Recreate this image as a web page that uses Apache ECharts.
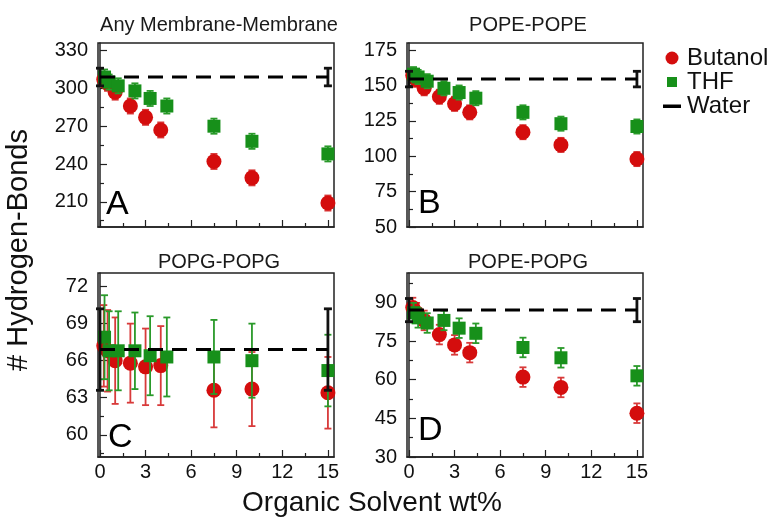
<!DOCTYPE html>
<html>
<head>
<meta charset="utf-8">
<script src="https://cdn.jsdelivr.net/npm/echarts@6/dist/echarts.min.js"></script>
<style>
  html, body { margin: 0; padding: 0; background: #fff; }
  #chart { width: 774px; height: 522px; }
</style>
</head>
<body>
<div id="chart"></div>
<script>
// organic solvent wt% for each series
var butanolX = [0.25, 0.5, 1, 2, 3, 4, 7.5, 10, 15];
var thfX = [0.3, 0.6, 1.2, 2.3, 3.3, 4.4, 7.5, 10, 15];
var waterX = [0, 15];

var panelNames = ['Any Membrane-Membrane', 'POPE-POPE', 'POPG-POPG', 'POPE-POPG'];
var panelLetters = ['A', 'B', 'C', 'D'];

// A - any membrane-membrane
var butanolA = [307, 304, 297, 286, 277, 267, 242, 229, 209];
var butanolErrA = [6, 6, 6, 6, 6, 6, 6, 6, 6];
var thfA = [309, 305, 302, 298, 292, 286, 270, 258, 248];
var thfErrA = [6, 6, 6, 6, 6, 6, 6, 6, 6];
var waterA = 309, waterErrA = 7;

// B - POPE-POPE
var butanolB = [157, 154, 148, 142, 137, 131, 117, 108, 98];
var butanolErrB = [5, 5, 5, 5, 5, 5, 5, 5, 5];
var thfB = [158, 156, 153, 148, 145, 141, 131, 123, 121];
var thfErrB = [5, 5, 5, 5, 5, 5, 5, 5, 5];
var waterB = 154.5, waterErrB = 5.5;

// C - POPG-POPG
var butanolC = [67.2, 66.8, 66.0, 65.8, 65.5, 65.6, 63.6, 63.7, 63.4];
var butanolErrC = [3.3, 3.3, 3.5, 3.2, 3.1, 3.2, 3.0, 3.0, 2.9];
var thfC = [67.9, 66.8, 66.8, 66.8, 66.4, 66.3, 66.3, 66.0, 65.2];
var thfErrC = [3.4, 3.2, 3.2, 3.1, 3.2, 3.2, 3.0, 3.0, 2.9];
var waterC = 66.9, waterErrC = 3.3;

// D - POPE-POPG
var butanolD = [88, 86, 83, 77.5, 73.5, 70.5, 61, 57, 47];
var butanolErrD = [3.8, 3.8, 3.8, 3.8, 3.8, 3.8, 3.8, 3.8, 3.8];
var thfD = [86, 84, 82, 83, 80, 78, 72.5, 68.5, 61.5];
var thfErrD = [3.8, 3.8, 3.8, 3.8, 3.8, 3.8, 3.8, 3.8, 3.8];
var waterD = 87, waterErrD = 4.5;

// axis ranges / ticks
var xMin = -0.13, xMax = 15.4;
var xTicks = [0, 3, 6, 9, 12, 15];
var xMinorTicks = [1.5, 4.5, 7.5, 10.5, 13.5];
var yMin = [190, 50, 58.2, 30];
var yMax = [336, 180, 73.1, 101.4];
var yTicks = [[210, 240, 270, 300, 330], [50, 75, 100, 125, 150, 175], [60, 63, 66, 69, 72], [30, 45, 60, 75, 90]];
var yMinorTicks = [[195, 225, 255, 285, 315], [62.5, 87.5, 112.5, 137.5, 162.5], [58.5, 61.5, 64.5, 67.5, 70.5], [37.5, 52.5, 67.5, 82.5, 97.5]];

var butanolY = [butanolA, butanolB, butanolC, butanolD];
var butanolErr = [butanolErrA, butanolErrB, butanolErrC, butanolErrD];
var thfY = [thfA, thfB, thfC, thfD];
var thfErr = [thfErrA, thfErrB, thfErrC, thfErrD];
var waterY = [waterA, waterB, waterC, waterD];
var waterErr = [waterErrA, waterErrB, waterErrC, waterErrD];

var FONT = 'Liberation Sans';
var RED = '#d40d0d', RED_BAR = '#d83a3a';
var GREEN = '#17901a', GREEN_BAR = '#2a9a2a';

var grids = [
  { left: 98, top: 43, width: 236, height: 184 },
  { left: 407, top: 43, width: 236, height: 184 },
  { left: 98, top: 273, width: 236, height: 184 },
  { left: 407, top: 273, width: 236, height: 184 }
];

function errorBars(color, width, cap) {
  return function (params, api) {
    var x = api.value(0);
    var p1 = api.coord([x, api.value(1)]);
    var p2 = api.coord([x, api.value(2)]);
    var st = { stroke: color, lineWidth: width };
    return {
      type: 'group',
      children: [
        { type: 'line', shape: { x1: p1[0], y1: p1[1], x2: p2[0], y2: p2[1] }, style: st },
        { type: 'line', shape: { x1: p1[0] - cap, y1: p1[1], x2: p1[0] + cap, y2: p1[1] }, style: st },
        { type: 'line', shape: { x1: p2[0] - cap, y1: p2[1], x2: p2[0] + cap, y2: p2[1] }, style: st }
      ]
    };
  };
}

function pts(xs, ys) {
  return xs.map(function (x, i) { return [x, ys[i]]; });
}
function bars(xs, ys, es) {
  return xs.map(function (x, i) { return [x, ys[i] - es[i], ys[i] + es[i]]; });
}

var xAxes = [], yAxes = [], series = [], titles = [];
for (var i = 0; i < 4; i++) {
  var showX = i >= 2;
  // main axes
  xAxes.push({
    type: 'value', gridIndex: i, position: 'bottom', min: xMin, max: xMax,
    axisLine: { lineStyle: { color: '#222', width: 1.5 } },
    axisTick: { inside: true, length: 7, customValues: xTicks, lineStyle: { color: '#222', width: 1.2 } },
    axisLabel: { show: showX, customValues: xTicks, margin: 5, fontSize: 20, fontFamily: FONT, color: '#111' },
    splitLine: { show: false }
  });
  // minor ticks
  xAxes.push({
    type: 'value', gridIndex: i, position: 'bottom', min: xMin, max: xMax,
    axisLine: { show: false },
    axisTick: { inside: true, length: 4, customValues: xMinorTicks, lineStyle: { color: '#222', width: 1.2 } },
    axisLabel: { show: false },
    splitLine: { show: false }
  });
  yAxes.push({
    type: 'value', gridIndex: i, position: 'left', min: yMin[i], max: yMax[i],
    axisLine: { lineStyle: { color: '#222', width: 1.5 } },
    axisTick: { inside: true, length: 7, customValues: yTicks[i], lineStyle: { color: '#222', width: 1.2 } },
    axisLabel: { customValues: yTicks[i], margin: 10, fontSize: 20, fontFamily: FONT, color: '#111' },
    splitLine: { show: false }
  });
  yAxes.push({
    type: 'value', gridIndex: i, position: 'left', min: yMin[i], max: yMax[i],
    axisLine: { show: false },
    axisTick: { inside: true, length: 4, customValues: yMinorTicks[i], lineStyle: { color: '#222', width: 1.2 } },
    axisLabel: { show: false },
    splitLine: { show: false }
  });

  var xi = i * 2, yi = i * 2;
  series.push({
    type: 'custom', name: 'Butanol err', xAxisIndex: xi, yAxisIndex: yi, z: 2,
    renderItem: errorBars(RED_BAR, 1.8, 3.5), encode: { x: 0, y: [1, 2] },
    data: bars(butanolX, butanolY[i], butanolErr[i]), silent: true
  });
  series.push({
    type: 'scatter', name: 'Butanol', xAxisIndex: xi, yAxisIndex: yi, z: 3,
    symbol: 'circle', symbolSize: 15, itemStyle: { color: RED, opacity: 1 },
    data: pts(butanolX, butanolY[i])
  });
  series.push({
    type: 'custom', name: 'THF err', xAxisIndex: xi, yAxisIndex: yi, z: 4,
    renderItem: errorBars(GREEN_BAR, 1.8, 3.5), encode: { x: 0, y: [1, 2] },
    data: bars(thfX, thfY[i], thfErr[i]), silent: true
  });
  series.push({
    type: 'scatter', name: 'THF', xAxisIndex: xi, yAxisIndex: yi, z: 5,
    symbol: 'rect', symbolSize: 13, itemStyle: { color: GREEN, opacity: 1 },
    data: pts(thfX, thfY[i])
  });
  series.push({
    type: 'line', name: 'Water', xAxisIndex: xi, yAxisIndex: yi, z: 6,
    symbol: 'none', itemStyle: { color: '#000' },
    lineStyle: { color: '#000', width: 3, type: [15, 9] },
    data: waterX.map(function (x) { return [x, waterY[i]]; })
  });
  series.push({
    type: 'custom', name: 'Water err', xAxisIndex: xi, yAxisIndex: yi, z: 6,
    renderItem: errorBars('#111', 2.8, 4), encode: { x: 0, y: [1, 2] },
    data: waterX.map(function (x) { return [x, waterY[i] - waterErr[i], waterY[i] + waterErr[i]]; }),
    silent: true
  });

  titles.push({
    text: panelNames[i], left: grids[i].left + grids[i].width / 2 - 2, top: i < 2 ? 10 : 247,
    textAlign: 'center',
    textStyle: { fontFamily: FONT, fontSize: 20, fontWeight: 'normal', color: '#1a1a1a' }
  });
}

var letterPos = [[106, 205], [418, 204], [108, 438], [418, 431]];
var graphics = panelLetters.map(function (l, i) {
  return {
    type: 'text', x: letterPos[i][0], y: letterPos[i][1], z: 10,
    style: { text: l, font: '34px "' + FONT + '"', fill: '#000', textVerticalAlign: 'middle' }
  };
});
graphics.push({
  type: 'text', x: 19, y: 250, rotation: Math.PI / 2,
  style: { text: '# Hydrogen-Bonds', font: '29px "' + FONT + '"', fill: '#111', textAlign: 'center', textVerticalAlign: 'middle' }
});
graphics.push({
  type: 'text', x: 372, y: 503,
  style: { text: 'Organic Solvent wt%', font: '28px "' + FONT + '"', fill: '#111', textAlign: 'center', textVerticalAlign: 'middle' }
});

var chart = echarts.init(document.getElementById('chart'), null, { renderer: 'canvas' });
chart.setOption({
  animation: false,
  backgroundColor: '#fff',
  title: titles,
  grid: grids.map(function (g) {
    return { left: g.left, top: g.top, width: g.width, height: g.height, show: true, borderColor: '#222', borderWidth: 1.5 };
  }),
  xAxis: xAxes,
  yAxis: yAxes,
  legend: {
    orient: 'vertical', left: 657, top: 41, itemWidth: 20, itemHeight: 14, itemGap: 0,
    textStyle: { fontFamily: FONT, fontSize: 24, color: '#111' },
    data: [
      { name: 'Butanol', icon: 'path://M0,0 M3.5,7 A6.5,6.5 0 1,0 16.5,7 A6.5,6.5 0 1,0 3.5,7 Z M20,14' },
      { name: 'THF', icon: 'path://M0,0 M5,2 L15,2 L15,12 L5,12 Z M20,14' },
      { name: 'Water', icon: 'path://M0,0 M1,5.5 L19,5.5 L19,9 L1,9 Z M20,14', itemStyle: { color: '#000' } }
    ]
  },
  graphic: graphics,
  series: series
});
</script>
</body>
</html>
